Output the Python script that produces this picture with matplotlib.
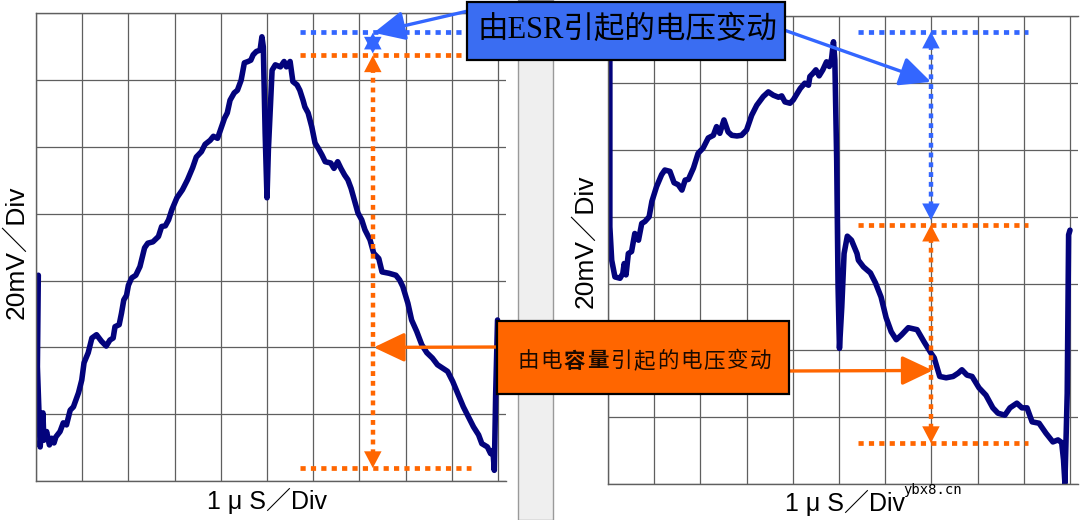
import matplotlib
matplotlib.use('Agg')
import matplotlib.pyplot as plt
from matplotlib.patches import Rectangle

W, H = 1080, 520

# scope traces, in divisions (x: 1uS/div, y: 20mV/div)
left_x = [0.05, 0.03, 0.07, 0.09, 0.15, 0.17, 0.23, 0.29, 0.34, 0.39, 0.43, 0.52, 0.59, 0.66,
          0.74, 0.81, 0.92, 0.99, 1.04, 1.13, 1.21, 1.31, 1.42, 1.52, 1.60, 1.67, 1.71, 1.80,
          1.85, 1.90, 1.96, 2.00, 2.07, 2.16, 2.25, 2.35, 2.42, 2.53, 2.65, 2.72, 2.80, 2.87,
          2.94, 3.05, 3.17, 3.28, 3.39, 3.47, 3.58, 3.66, 3.77, 3.84, 3.93, 3.99, 4.08, 4.14,
          4.20, 4.29, 4.36, 4.44, 4.51, 4.59, 4.65, 4.70, 4.77, 4.85, 4.89, 4.92, 4.96, 5.00,
          5.03, 5.11, 5.18, 5.29, 5.37, 5.42, 5.50, 5.56, 5.65, 5.71, 5.78, 5.82, 5.89, 5.97,
          6.04, 6.11, 6.19, 6.26, 6.38, 6.45, 6.53, 6.60, 6.68, 6.75, 6.82, 6.90, 6.97, 7.05,
          7.12, 7.23, 7.31, 7.42, 7.49, 7.64, 7.79, 7.87, 7.94, 8.05, 8.13, 8.24, 8.35, 8.46,
          8.58, 8.69, 8.80, 8.91, 9.02, 9.13, 9.25, 9.36, 9.47, 9.58, 9.65, 9.77, 9.84, 9.89,
          9.92, 9.95, 9.99]
left_y = [3.08, 1.71, 0.91, 0.51, 1.02, 0.61, 0.74, 0.54, 0.64, 0.57, 0.66, 0.74, 0.87, 0.84,
          1.06, 1.11, 1.32, 1.51, 1.77, 1.92, 2.14, 2.19, 2.09, 2.02, 2.11, 2.14, 2.31, 2.34,
          2.51, 2.71, 2.78, 2.93, 3.04, 3.08, 3.21, 3.49, 3.56, 3.58, 3.66, 3.81, 3.82, 3.91,
          4.06, 4.24, 4.36, 4.51, 4.69, 4.85, 4.93, 5.04, 5.10, 5.16, 5.13, 5.25, 5.43, 5.51,
          5.70, 5.81, 5.85, 6.00, 6.26, 6.28, 6.30, 6.38, 6.43, 6.45, 6.65, 6.50, 5.21, 4.24,
          4.96, 6.15, 6.23, 6.20, 6.28, 6.20, 6.28, 5.98, 5.93, 5.85, 5.70, 5.60, 5.51, 5.30,
          5.06, 4.98, 4.88, 4.78, 4.76, 4.68, 4.78, 4.68, 4.58, 4.51, 4.38, 4.18, 4.01, 3.91,
          3.76, 3.61, 3.41, 3.33, 3.13, 3.11, 3.08, 3.01, 2.91, 2.66, 2.41, 2.24, 2.04, 1.92,
          1.84, 1.74, 1.69, 1.64, 1.49, 1.31, 1.11, 0.96, 0.81, 0.69, 0.56, 0.51, 0.41, 0.46,
          0.16, 1.31, 2.41]

right_x = [0.04, 0.04, 0.08, 0.15, 0.26, 0.32, 0.35, 0.39, 0.44, 0.51, 0.58, 0.66, 0.73, 0.80,
           0.89, 0.95, 1.05, 1.16, 1.23, 1.34, 1.43, 1.52, 1.60, 1.67, 1.74, 1.85, 1.95, 2.06,
           2.17, 2.28, 2.35, 2.42, 2.51, 2.60, 2.68, 2.79, 2.89, 3.00, 3.11, 3.22, 3.36, 3.47,
           3.58, 3.69, 3.76, 3.83, 3.94, 4.01, 4.16, 4.26, 4.34, 4.37, 4.44, 4.50, 4.57, 4.65,
           4.73, 4.79, 4.84, 4.88, 4.91, 4.95, 4.98, 5.01, 5.06, 5.11, 5.18, 5.27, 5.39, 5.42,
           5.53, 5.68, 5.79, 5.91, 6.02, 6.13, 6.24, 6.35, 6.50, 6.69, 6.84, 6.99, 7.06, 7.18,
           7.32, 7.47, 7.58, 7.66, 7.77, 7.88, 8.03, 8.18, 8.33, 8.44, 8.59, 8.70, 8.85, 8.96,
           9.07, 9.18, 9.33, 9.48, 9.63, 9.74, 9.82, 9.86, 9.89, 9.94, 9.97, 10.00]
right_y = [6.95, 3.85, 3.35, 3.10, 3.08, 3.15, 3.30, 3.13, 3.45, 3.48, 3.75, 3.65, 3.90, 3.93,
           4.00, 4.23, 4.45, 4.63, 4.70, 4.68, 4.51, 4.48, 4.40, 4.55, 4.56, 4.73, 4.95, 5.03,
           5.18, 5.22, 5.35, 5.25, 5.45, 5.27, 5.22, 5.21, 5.22, 5.30, 5.52, 5.67, 5.80, 5.87,
           5.82, 5.79, 5.81, 5.72, 5.70, 5.75, 5.92, 6.00, 5.97, 6.10, 6.15, 6.20, 6.11, 6.20,
           6.32, 6.25, 6.37, 6.62, 6.35, 4.85, 2.95, 2.03, 2.65, 3.45, 3.71, 3.65, 3.45, 3.35,
           3.25, 3.16, 3.01, 2.80, 2.49, 2.28, 2.16, 2.23, 2.34, 2.31, 2.13, 1.96, 1.89, 1.61,
           1.59, 1.61, 1.66, 1.71, 1.63, 1.61, 1.44, 1.33, 1.14, 1.06, 1.03, 1.14, 1.21, 1.14,
           1.14, 0.93, 0.91, 0.76, 0.63, 0.66, 0.62, 0.36, 0.01, 1.36, 3.73, 3.80]

# marked levels (divisions)
left_mark_x = 7.29
left_levels = [6.72, 6.38, 0.195]       # blue top, orange top, orange bottom
right_mark_x = 6.99
right_levels = [6.77, 3.88, 0.614]

ylabel = "20mV／Div"
xlabel = "1 μ S／Div"
esr_text = "由ESR引起的电压变动"
cap_text = "由电容量引起的电压变动"

BLUE = '#3366ff'
ORANGE = '#ff6600'
TRACE = '#03037c'
GRID = '#5f5f5f'
DOT = (0, (1.1, 1.1))
SANS = ['Liberation Sans', 'Noto Sans CJK SC']

fig = plt.figure(figsize=(10.8, 5.2), dpi=100)


def fx(x):
    return x / W


def fy(y):
    return 1 - y / H


def panel(left, bottom):
    ax = fig.add_axes([fx(left), fy(bottom), 470 / W, 467.6 / H])
    ax.set_xlim(0, 470 / 46.2)
    ax.set_ylim(0, 7)
    ax.set_xticks(range(11))
    ax.set_yticks(range(8))
    ax.tick_params(length=0, labelbottom=False, labelleft=False)
    ax.grid(True, color=GRID, lw=0.9)
    ax.spines['right'].set_visible(False)
    for s in ['left', 'top', 'bottom']:
        ax.spines[s].set_color(GRID)
        ax.spines[s].set_linewidth(1.0)
    return ax


def head(ax, x, y, dy, color):
    ax.annotate('', xy=(x, y), xytext=(x, y + dy),
                arrowprops=dict(arrowstyle='-|>,head_length=0.8,head_width=0.42',
                                mutation_scale=15, color=color, lw=0,
                                shrinkA=0, shrinkB=0), zorder=4)


def hdots(ax, x0, x1, y, color):
    ax.plot([x0, x1], [y, y], color=color, lw=3.4, ls=DOT, dash_capstyle='butt',
            clip_on=False, zorder=3)


def vdots(ax, x, y0, y1, color):
    ax.plot([x, x], [y0, y1], color=color, lw=3.2, ls=DOT, dash_capstyle='butt',
            clip_on=False, zorder=3)


def big_arrow(ax, tip, start_px, color):
    ax.annotate('', xy=tip, xycoords='data',
                xytext=(fx(start_px[0]), fy(start_px[1])), textcoords='figure fraction',
                arrowprops=dict(arrowstyle='-|>,head_length=0.95,head_width=0.45',
                                mutation_scale=20, color=color, lw=2.4,
                                shrinkA=0, shrinkB=0),
                annotation_clip=False, zorder=5)


ax1 = panel(36, 481)
ax2 = panel(608, 484)

ax1.plot(left_x, left_y, color=TRACE, lw=4, solid_joinstyle='round',
         solid_capstyle='round', zorder=2)
ax2.plot(right_x, right_y, color=TRACE, lw=4, solid_joinstyle='round',
         solid_capstyle='round', zorder=2)

# left panel marks
hdots(ax1, 5.71, 9.35, left_levels[0], BLUE)
hdots(ax1, 5.71, 9.35, left_levels[1], ORANGE)
hdots(ax1, 5.71, 9.42, left_levels[2], ORANGE)
vdots(ax1, left_mark_x, left_levels[1] - 0.2, left_levels[2] + 0.2, ORANGE)
head(ax1, left_mark_x, left_levels[0] - 0.01, -0.3, BLUE)
head(ax1, left_mark_x, left_levels[1] + 0.02, 0.3, BLUE)
head(ax1, left_mark_x, left_levels[1] - 0.01, -0.4, ORANGE)
head(ax1, left_mark_x, left_levels[2], 0.4, ORANGE)

# right panel marks
hdots(ax2, 5.42, 9.09, right_levels[0], BLUE)
hdots(ax2, 5.42, 9.09, right_levels[1], ORANGE)
hdots(ax2, 5.42, 9.09, right_levels[2], ORANGE)
vdots(ax2, right_mark_x, right_levels[0] - 0.2, right_levels[1] + 0.2, BLUE)
vdots(ax2, right_mark_x, right_levels[1] - 0.2, right_levels[2] + 0.2, ORANGE)
head(ax2, right_mark_x, right_levels[0], -0.4, BLUE)
head(ax2, right_mark_x, right_levels[1] + 0.07, 0.4, BLUE)
head(ax2, right_mark_x, right_levels[1], -0.4, ORANGE)
head(ax2, right_mark_x, right_levels[2], 0.4, ORANGE)

# arrows from the two callouts
big_arrow(ax1, (7.31, 6.71), (468, 11), BLUE)
big_arrow(ax2, (6.99, 6.02), (784, 30), BLUE)
big_arrow(ax1, (7.31, 2.0), (498, 347), ORANGE)
big_arrow(ax2, (7.03, 1.70), (788, 371), ORANGE)

# grey separator bar
fig.add_artist(Rectangle((fx(518), 0), 35 / W, 1, transform=fig.transFigure,
                         fc='#efefef', ec='#9a9a9a', lw=1.0, zorder=1))

# callout boxes
fig.add_artist(Rectangle((fx(467), fy(60)), 318 / W, 58 / H, transform=fig.transFigure,
                         fc='#3a6df2', ec='black', lw=1.6, zorder=6))
fig.text(fx(627), fy(30), esr_text, fontsize=22, ha='center', va='center',
         family=['Liberation Serif', 'Noto Sans CJK SC'], color='black', zorder=7)

fig.add_artist(Rectangle((fx(497), fy(394)), 292 / W, 73 / H, transform=fig.transFigure,
                         fc=ORANGE, ec='black', lw=1.6, zorder=6))
for i, ch in enumerate(cap_text):
    fig.text(fx(528 + i * 23.3), fy(361), ch, fontsize=15.5, ha='center', va='center',
             family=['Noto Sans CJK SC'], color='#1a0a00',
             weight='bold' if ch in '容量' else 'normal', zorder=7)

# axis labels
fig.text(fx(16), fy(252), ylabel, rotation=90, fontsize=19, ha='center', va='center',
         family=SANS)
fig.text(fx(585), fy(241), ylabel, rotation=90, fontsize=19, ha='center', va='center',
         family=SANS)
fig.text(fx(267), fy(501), xlabel, fontsize=18, ha='center', va='center', family=SANS)
fig.text(fx(845), fy(503), xlabel, fontsize=18, ha='center', va='center', family=SANS)

fig.text(fx(933), fy(490), "ybx8.cn", fontsize=10, ha='center', va='center',
         family='DejaVu Sans Mono', zorder=8)

fig.savefig('out.png', dpi=100)
